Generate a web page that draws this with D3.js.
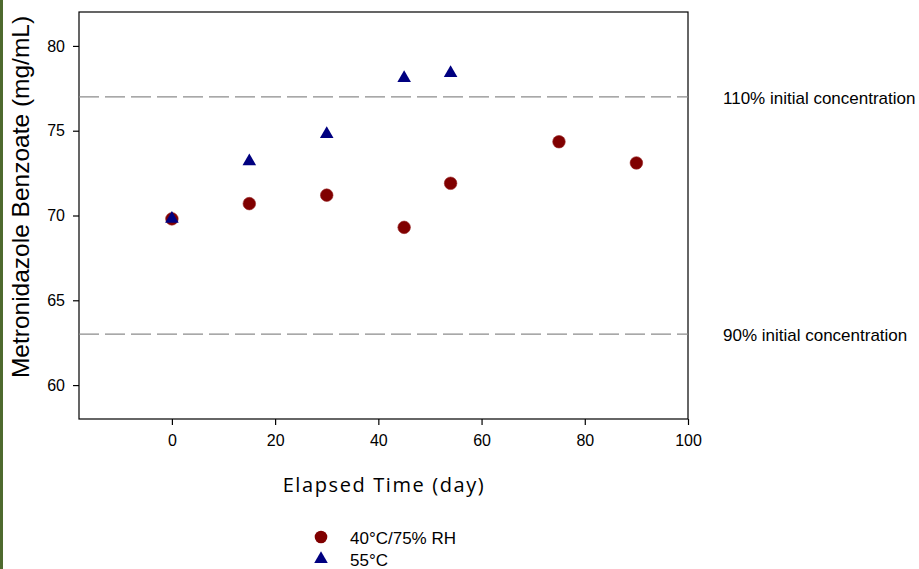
<!DOCTYPE html>
<head>
  <meta charset='utf-8'>
  <title>Metronidazole Benzoate stability</title>
  <script src="https://cdn.jsdelivr.net/npm/d3@7"></script>
  <style>
    body { margin: 0; background: #fff; }
    svg text { font-family: "Liberation Sans", Arial, sans-serif; fill: #000; }
    .axis text { font-size: 16px; }
    .axis path, .axis line { stroke: #000; stroke-width: 1.2px; }
  </style>
</head>
<body>
  <div id="chart"></div>
  <script>
    // elapsed days and measured concentrations
    var days40 = [0, 15, 30, 45, 54, 75, 90];
    var conc40 = [69.8, 70.7, 71.2, 69.3, 71.9, 74.35, 73.1];
    var days55 = [0, 15, 30, 45, 54];
    var conc55 = [69.8, 73.2, 74.8, 78.1, 78.4];
    var xTicks = [0, 20, 40, 60, 80, 100];
    var yTicks = [60, 65, 70, 75, 80];
    var limits = [
      {value: 77, label: "110% initial concentration"},
      {value: 63, label: "90% initial concentration"}
    ];

    var width = 919, height = 569;
    var plot = {left: 79, top: 12, right: 688, bottom: 419};

    var svg = d3.select("#chart").append("svg")
        .attr("width", width)
        .attr("height", height);

    // green strip at the left edge
    svg.append("rect")
        .attr("x", 0).attr("y", 0)
        .attr("width", 3).attr("height", height)
        .style("fill", "#4e6a2e");

    var x = d3.scaleLinear().domain([-18, 100]).range([plot.left, plot.right]);
    var y = d3.scaleLinear().domain([58, 82]).range([plot.bottom, plot.top]);

    // frame
    svg.append("rect")
        .attr("x", plot.left).attr("y", plot.top)
        .attr("width", plot.right - plot.left)
        .attr("height", plot.bottom - plot.top)
        .style("fill", "none")
        .style("stroke", "#000")
        .style("stroke-width", 1.2);

    svg.append("g")
        .attr("class", "axis")
        .attr("transform", "translate(0," + plot.bottom + ")")
        .call(d3.axisBottom(x).tickValues(xTicks).tickSize(6).tickPadding(10).tickSizeOuter(0))
      .call(function(g) { g.select(".domain").remove(); });

    svg.append("g")
        .attr("class", "axis")
        .attr("transform", "translate(" + plot.left + ",0)")
        .call(d3.axisLeft(y).tickValues(yTicks).tickSize(6).tickPadding(8).tickSizeOuter(0))
      .call(function(g) { g.select(".domain").remove(); });

    // limit lines
    svg.selectAll(".limit")
        .data(limits)
      .enter().append("line")
        .attr("class", "limit")
        .attr("x1", plot.left).attr("x2", plot.right)
        .attr("y1", function(d) { return y(d.value); })
        .attr("y2", function(d) { return y(d.value); })
        .style("stroke", "#8c8c8c")
        .style("stroke-width", 1.2)
        .style("stroke-dasharray", "20,6");

    svg.selectAll(".limit-label")
        .data(limits)
      .enter().append("text")
        .attr("class", "limit-label")
        .attr("x", 723)
        .attr("y", function(d) { return y(d.value) + 1; })
        .attr("dy", "0.35em")
        .style("font-size", "17px")
        .text(function(d) { return d.label; });

    var tri = d3.symbol().type(d3.symbolTriangle).size(80);

    svg.selectAll(".c40")
        .data(days40)
      .enter().append("circle")
        .attr("class", "c40")
        .attr("cx", function(d) { return x(d); })
        .attr("cy", function(d, i) { return y(conc40[i]); })
        .attr("r", 6.3)
        .style("fill", "#800000")
        .style("stroke", "#9a2a2a")
        .style("stroke-width", 0.6);

    svg.selectAll(".c55")
        .data(days55)
      .enter().append("path")
        .attr("class", "c55")
        .attr("d", tri)
        .attr("transform", function(d, i) { return "translate(" + x(d) + "," + y(conc55[i]) + ")"; })
        .style("fill", "#000080");

    // axis titles
    svg.append("text")
        .attr("transform", "translate(29,197) rotate(-90)")
        .style("text-anchor", "middle")
        .style("font-size", "24.5px")
        .text("Metronidazole Benzoate (mg/mL)");

    svg.append("text")
        .attr("x", 384)
        .attr("y", 492)
        .style("text-anchor", "middle")
        .style("font-family", "'Open Sans', sans-serif")
        .style("font-size", "20px")
        .style("letter-spacing", "1.6px")
        .text("Elapsed Time (day)");

    // legend
    var legend = svg.append("g").attr("transform", "translate(321,0)");
    legend.append("circle")
        .attr("cx", 0).attr("cy", 537).attr("r", 6.3)
        .style("fill", "#800000");
    legend.append("path")
        .attr("d", tri)
        .attr("transform", "translate(0,559)")
        .style("fill", "#000080");
    legend.append("text")
        .attr("x", 29).attr("y", 538).attr("dy", "0.35em")
        .style("font-size", "17px")
        .text("40°C/75% RH");
    legend.append("text")
        .attr("x", 29).attr("y", 560).attr("dy", "0.35em")
        .style("font-size", "17px")
        .text("55°C");
  </script>
</body>
